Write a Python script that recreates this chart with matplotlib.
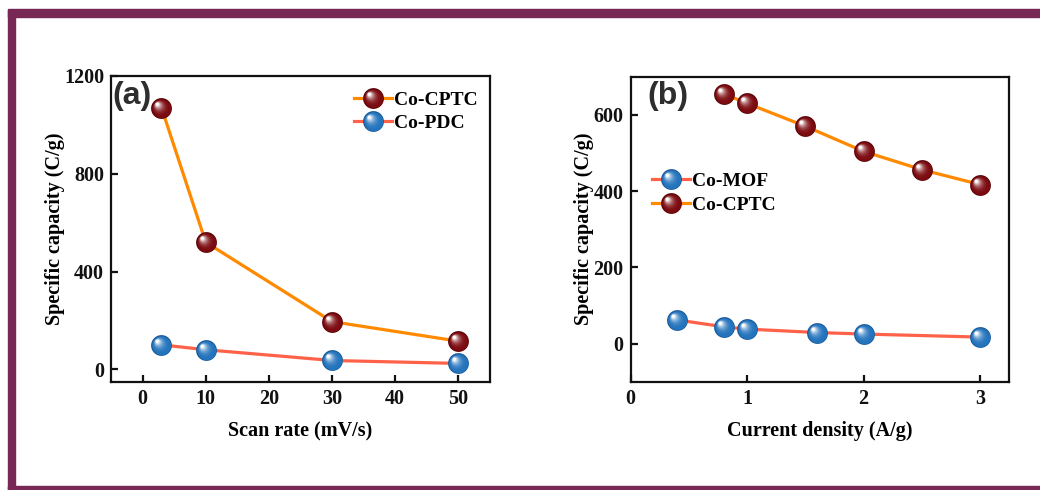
import numpy as np
import matplotlib
matplotlib.use("Agg")
import matplotlib.pyplot as plt
from matplotlib.path import Path
from matplotlib.patches import Rectangle
from matplotlib.legend_handler import HandlerTuple
from matplotlib.colors import to_rgb

# ---- data -------------------------------------------------------------
scan_rate = [3, 10, 30, 50]
cptc_scan = [1070, 520, 195, 115]
pdc_scan = [100, 80, 36, 24]

cptc_density = [0.8, 1.0, 1.5, 2.0, 2.5, 3.0]
cptc_current = [655, 630, 570, 504, 456, 417]
mof_density = [0.4, 0.8, 1.0, 1.6, 2.0, 3.0]
mof_current = [62, 44, 38, 29, 25, 17]

xticks_a = [0, 10, 20, 30, 40, 50]
yticks_a = [0, 400, 800, 1200]
xticks_b = [0, 1, 2, 3]
yticks_b = [0, 200, 400, 600]

# ---- style ------------------------------------------------------------
plt.rcParams['font.family'] = ['Liberation Serif', 'DejaVu Serif']
plt.rcParams['font.weight'] = 'bold'
plt.rcParams['axes.labelweight'] = 'bold'

ORANGE = '#ff8a00'
CORAL = '#ff6248'
RED_BALL = '#7c0b10'
BLUE_BALL = '#2474bd'
FRAME = '#782855'
MS = 15


def circle_marker(cx, cy, r, n=64):
    """Circle path of radius r centred at (cx, cy) inside a fixed [-1, 1] box."""
    t = np.linspace(0, 2 * np.pi, n)
    verts = list(zip(cx + r * np.cos(t), cy + r * np.sin(t)))
    codes = [Path.MOVETO] + [Path.LINETO] * (n - 2) + [Path.CLOSEPOLY]
    # invisible anchors keep the marker normalisation fixed
    verts += [(1.0, 1.0), (-1.0, -1.0)]
    codes += [Path.MOVETO, Path.MOVETO]
    return Path(verts, codes)


def sphere_layers(base, edge):
    """(marker path, colour) pairs that build a shaded ball."""
    base = np.array(to_rgb(base))
    edge = np.array(to_rgb(edge))
    layers = [(circle_marker(0, 0, 1.0), edge), (circle_marker(0.03, -0.03, 0.9), base)]
    n = 12
    for k in range(1, n + 1):
        t = k / n
        r = 0.9 - 0.75 * t
        c = -0.40 * t
        mix = t ** 2.5
        col = base * (1 - mix) + np.ones(3) * mix
        layers.append((circle_marker(c, -c, r), col))
    return layers


def ball_series(ax, x, y, line_color, base, edge, label):
    line, = ax.plot(x, y, color=line_color, lw=2.3, zorder=2)
    handles = [line]
    for k, (path, col) in enumerate(sphere_layers(base, edge)):
        h, = ax.plot(x, y, ls='none', marker=path, markersize=MS,
                     markerfacecolor=col, markeredgewidth=0, zorder=3 + k * 0.01)
        handles.append(h)
    return tuple(handles), label


def style_axes(ax):
    for s in ax.spines.values():
        s.set_linewidth(1.6)
        s.set_color('#111111')
    ax.tick_params(direction='in', length=5, width=1.6, labelsize=14.5,
                   top=False, right=False, pad=5, colors='#111111')
    for lab in ax.get_xticklabels() + ax.get_yticklabels():
        lab.set_fontweight('bold')


fig = plt.figure(figsize=(10.4, 4.9), dpi=100)

# ---- frame ------------------------------------------------------------
fig.patches.append(Rectangle((8 / 1040, 1 - 17 / 490), 1 - 8 / 1040, 7.5 / 490,
                             transform=fig.transFigure, color=FRAME, zorder=0))
fig.patches.append(Rectangle((7.5 / 1040, 0.5 / 490), 7.5 / 1040, 1 - 10.5 / 490,
                             transform=fig.transFigure, color=FRAME, zorder=0))
fig.patches.append(Rectangle((7.5 / 1040, 0.5 / 490), 1, 4 / 490,
                             transform=fig.transFigure, color=FRAME, zorder=0))

legend_kw = dict(handler_map={tuple: HandlerTuple(ndivide=1)}, loc='upper left',
                 frameon=False, fontsize=14, handlelength=1.95, handletextpad=0.12,
                 labelspacing=0.3, numpoints=1, borderaxespad=0.3)

# ---- panel (a) --------------------------------------------------------
ax1 = fig.add_axes([0.1067, 0.2204, 0.3644, 0.6245])
h1 = ball_series(ax1, scan_rate, cptc_scan, ORANGE, RED_BALL, '#5a0508', 'Co-CPTC')
h2 = ball_series(ax1, scan_rate, pdc_scan, CORAL, BLUE_BALL, '#1b5a98', 'Co-PDC')
ax1.set_xlim(-5, 55)
ax1.set_ylim(-52, 1200)
ax1.set_xticks(xticks_a)
ax1.set_yticks(yticks_a)
style_axes(ax1)
ax1.set_xlabel('Scan rate (mV/s)', fontsize=14.5, labelpad=9)
ax1.set_ylabel('Specific capacity (C/g)', fontsize=14.5, labelpad=-0.5)
ax1.text(0.004, 0.985, '(a)', transform=ax1.transAxes, ha='left', va='top',
         fontsize=23, fontweight='bold', family='Liberation Sans', color='#2e2e2e')
ax1.legend([h1[0], h2[0]], [h1[1], h2[1]], bbox_to_anchor=(0.605, 0.995), **legend_kw)

# ---- panel (b) --------------------------------------------------------
ax2 = fig.add_axes([0.6064, 0.2210, 0.3641, 0.6225])
h3 = ball_series(ax2, mof_density, mof_current, CORAL, BLUE_BALL, '#1b5a98', 'Co-MOF')
h4 = ball_series(ax2, cptc_density, cptc_current, ORANGE, RED_BALL, '#5a0508', 'Co-CPTC')
ax2.set_xlim(0, 3.25)
ax2.set_ylim(-100, 700)
ax2.set_xticks(xticks_b)
ax2.set_yticks(yticks_b)
style_axes(ax2)
ax2.set_xlabel('Current density (A/g)', fontsize=14.5, labelpad=9)
ax2.set_ylabel('Specific capacity (C/g)', fontsize=14.5, labelpad=-0.5)
ax2.text(0.045, 0.985, '(b)', transform=ax2.transAxes, ha='left', va='top',
         fontsize=23, fontweight='bold', family='Liberation Sans', color='#2e2e2e')
ax2.legend([h3[0], h4[0]], [h3[1], h4[1]], bbox_to_anchor=(0.02, 0.73), **legend_kw)

fig.savefig('out.png', dpi=100)
